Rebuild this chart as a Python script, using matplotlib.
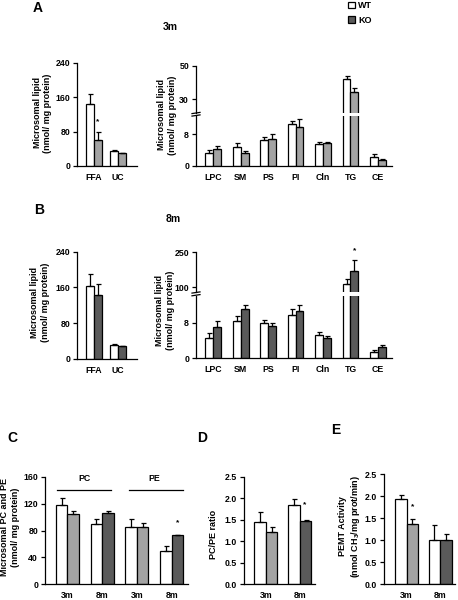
import matplotlib
matplotlib.use('Agg')
import matplotlib.pyplot as plt
from matplotlib.patches import Patch
from matplotlib.lines import Line2D
import numpy as np

plt.rcParams['font.family'] = ['Liberation Sans', 'DejaVu Sans']
plt.rcParams['font.weight'] = 'bold'
plt.rcParams['mathtext.default'] = 'regular'

# ---------------- data ----------------
cat_left = ['FFA', 'UC']
cat_right = ['LPC', 'SM', 'PS', 'PI', 'Cln', 'TG', 'CE']

wt_3m_left = [144, 35]
wt_3m_left_err = [24, 2]
ko_3m_left = [60, 30]
ko_3m_left_err = [20, 1]

wt_3m_right = [3.4, 4.8, 6.5, 10.7, 5.5, 42.1, 2.35]
wt_3m_right_err = [0.6, 0.9, 0.8, 0.7, 0.6, 2.0, 0.6]
ko_3m_right = [4.3, 3.4, 6.8, 9.9, 5.9, 34.2, 1.45]
ko_3m_right_err = [0.8, 0.3, 1.2, 1.9, 0.2, 2.3, 0.25]

wt_8m_left = [164, 31]
wt_8m_left_err = [26, 3.5]
ko_8m_left = [143, 28]
ko_8m_left_err = [24, 2]

wt_8m_right = [4.55, 8.45, 8.0, 9.8, 5.3, 113, 1.5]
wt_8m_right_err = [1.2, 1.1, 0.7, 1.3, 0.7, 21, 0.3]
ko_8m_right = [7.1, 11.1, 7.3, 10.6, 4.5, 171, 2.5]
ko_8m_right_err = [1.4, 1.0, 0.75, 1.3, 0.45, 45, 0.55]

cat_c = ['3m', '8m', '3m', '8m']
wt_pcpe = [117.6, 89.3, 85.8, 49.8]
wt_pcpe_err = [10, 8, 11.7, 7.7]
ko_pcpe = [104.8, 105.9, 85.8, 72.6]
ko_pcpe_err = [4.5, 3, 5.4, 0.0]

cat_de = ['3m', '8m']
wt_ratio = [1.45, 1.85]
wt_ratio_err = [0.22, 0.14]
ko_ratio = [1.22, 1.46]
ko_ratio_err = [0.10, 0.03]

wt_pemt = [1.93, 0.99]
wt_pemt_err = [0.10, 0.34]
ko_pemt = [1.37, 0.99]
ko_pemt_err = [0.11, 0.14]

# ---------------- style ----------------
WHITE = 'white'
LIGHT = '#a3a3a3'
DARK = '#5a5a5a'
TICK_FS = 6.3
LAB_FS = 6.5

W, H = 458, 600
fig = plt.figure(figsize=(W / 100, H / 100), dpi=100)


def ax_at(x0, x1, ytop, ybot):
    return fig.add_axes([x0 / W, 1 - ybot / H, (x1 - x0) / W, (ybot - ytop) / H])


def style(ax, bottom=True):
    for s in ['top', 'right']:
        ax.spines[s].set_visible(False)
    ax.spines['left'].set_linewidth(0.9)
    ax.spines['bottom'].set_linewidth(0.9)
    if not bottom:
        ax.spines['bottom'].set_visible(False)
    ax.tick_params(axis='y', direction='out', length=3, width=0.9, pad=2,
                   labelsize=TICK_FS)
    ax.tick_params(axis='x', length=0, pad=5, labelsize=TICK_FS)
    ax.patch.set_alpha(0)


def bars(ax, wt, wterr, ko, koerr, kocol, width):
    x = np.arange(len(wt))
    ax.bar(x - width / 2, wt, width, color=WHITE, edgecolor='black', linewidth=0.9, zorder=2)
    ax.bar(x + width / 2, ko, width, color=kocol, edgecolor='black', linewidth=0.9, zorder=2)
    ax.errorbar(x - width / 2, wt, yerr=[np.zeros(len(wt)), wterr], fmt='none',
                ecolor='black', elinewidth=0.9, capsize=1.8, capthick=0.9, zorder=3)
    ax.errorbar(x + width / 2, ko, yerr=[np.zeros(len(ko)), koerr], fmt='none',
                ecolor='black', elinewidth=0.9, capsize=1.8, capthick=0.9, zorder=3)
    return x


def ftext(x, y, s, **kw):
    fig.text(x / W, 1 - y / H, s, ha='center', va='center', **kw)


def ylab(x, y, s, fs=LAB_FS):
    fig.text(x / W, 1 - y / H, s, rotation=90, ha='center', va='center',
             multialignment='center', fontsize=fs, linespacing=1.15)


def simple_panel(x0, x1, ytop, ybot, wt, wterr, ko, koerr, kocol, width, xlim, ylim, yticks, cats, fmt=None):
    ax = ax_at(x0, x1, ytop, ybot)
    x = bars(ax, wt, wterr, ko, koerr, kocol, width)
    ax.set_xlim(*xlim)
    ax.set_ylim(*ylim)
    ax.set_yticks(yticks)
    if fmt:
        ax.set_yticklabels([fmt % v for v in yticks])
    ax.set_xticks(x)
    ax.set_xticklabels(cats)
    style(ax)
    return ax


def broken_panel(x0, x1, ytop, ybreak_top, ybreak_bot, ybot, wt, wterr, ko, koerr, kocol,
                 width, xlim, lo_lim, hi_lim, lo_ticks, hi_ticks, cats):
    lo = ax_at(x0, x1, ybreak_bot, ybot)
    hi = ax_at(x0, x1, ytop, ybreak_top)
    for ax in (lo, hi):
        x = bars(ax, wt, wterr, ko, koerr, kocol, width)
        ax.set_xlim(*xlim)
    lo.set_ylim(*lo_lim)
    hi.set_ylim(*hi_lim)
    lo.set_yticks(lo_ticks)
    hi.set_yticks(hi_ticks)
    lo.set_xticks(x)
    lo.set_xticklabels(cats)
    hi.set_xticks([])
    style(lo)
    style(hi, bottom=False)
    # break marks
    for yy in (ybreak_top + 0.5, ybreak_bot - 0.5):
        fig.add_artist(Line2D([(x0 - 4) / W, (x0 + 4) / W],
                              [1 - (yy + 0.6) / H, 1 - (yy - 0.6) / H],
                              color='black', linewidth=0.9))
    return lo, hi


# ---------------- Panel A ----------------
a1 = simple_panel(77, 137, 63, 166, wt_3m_left, wt_3m_left_err, ko_3m_left, ko_3m_left_err,
                  [LIGHT, LIGHT], 0.33, (-0.7, 1.8), (0, 240), [0, 80, 160, 240], cat_left)
a1.text(0 + 0.165, ko_3m_left[0] + ko_3m_left_err[0] + 22, '*', ha='center', va='center', fontsize=6)
ylab(42.5, 113, 'Microsomal lipid\n(nmol/ mg protein)')

broken_panel(196, 392, 65.7, 112.5, 116, 166, wt_3m_right, wt_3m_right_err, ko_3m_right,
             ko_3m_right_err, LIGHT, 0.29, (-0.62, 6.51), (0, 12.6), (22.1, 50), [0, 8], [30, 50],
             cat_right)
ylab(167, 115, 'Microsomal lipid\n(nmol/ mg protein)')

ftext(38, 8, 'A', fontsize=10)
ftext(170.5, 27, '3m', fontsize=7.5)

# ---------------- Panel B ----------------
b1 = simple_panel(77, 137, 251.7, 359, wt_8m_left, wt_8m_left_err, ko_8m_left, ko_8m_left_err,
                  [DARK, DARK], 0.33, (-0.7, 1.8), (0, 240), [0, 80, 160, 240], cat_left)
ylab(40, 302, 'Microsomal lipid\n(nmol/ mg protein)')

blo, bhi = broken_panel(196, 392, 252.3, 292, 295.7, 358.3, wt_8m_right, wt_8m_right_err, ko_8m_right,
                        ko_8m_right_err, DARK, 0.29, (-0.62, 6.51), (0, 14.1), (79.8, 250), [0, 8],
                        [100, 250], cat_right)
bhi.text(5 + 0.145, ko_8m_right[5] + ko_8m_right_err[5] + 40, '*', ha='center', va='center', fontsize=6)
ylab(165, 310, 'Microsomal lipid\n(nmol/ mg protein)')

ftext(39, 210.5, 'B', fontsize=10)
ftext(173.5, 219, '8m', fontsize=7.5)

# ---------------- Panel C ----------------
c = simple_panel(45, 188, 476.7, 584.3, wt_pcpe, wt_pcpe_err, ko_pcpe, ko_pcpe_err,
                 [LIGHT, DARK, LIGHT, DARK], 0.33, (-0.64, 3.47), (0, 160),
                 [0, 40, 80, 120, 160], cat_c)
c.plot([-0.3, 1.25], [140, 140], color='black', linewidth=0.9, clip_on=False)
c.plot([1.77, 3.33], [140, 140], color='black', linewidth=0.9, clip_on=False)
c.text(0.5, 157, 'PC', ha='center', va='center', fontsize=TICK_FS)
c.text(2.5, 157, 'PE', ha='center', va='center', fontsize=TICK_FS)
c.text(3 + 0.165, ko_pcpe[3] + 19, '*', ha='center', va='center', fontsize=6)
ylab(10, 527, 'Microsomal PC and PE\n(nmol/ mg protein)')
ftext(12.5, 437.5, 'C', fontsize=10)

# ---------------- Panel D ----------------
d = simple_panel(244, 315, 476.7, 584.3, wt_ratio, wt_ratio_err, ko_ratio, ko_ratio_err,
                 [LIGHT, DARK], 0.34, (-0.65, 1.45), (0, 2.5),
                 [0, 0.5, 1.0, 1.5, 2.0, 2.5], cat_de, fmt='%.1f')
d.text(1 + 0.14, ko_ratio[1] + ko_ratio_err[1] + 0.37, '*', ha='center', va='center', fontsize=6)
ylab(213, 534, 'PC/PE ratio')
ftext(202.5, 437.5, 'D', fontsize=10)

# ---------------- Panel E ----------------
e = simple_panel(384, 455, 474, 584, wt_pemt, wt_pemt_err, ko_pemt, ko_pemt_err,
                 [LIGHT, DARK], 0.34, (-0.67, 1.44), (0, 2.5),
                 [0, 0.5, 1.0, 1.5, 2.0, 2.5], cat_de, fmt='%.1f')
e.text(0 + 0.17, ko_pemt[0] + ko_pemt_err[0] + 0.27, '*', ha='center', va='center', fontsize=6)
ylab(350, 526, 'PEMT Activity\n(nmol CH$_3$/mg prot/min)')
ftext(336, 430, 'E', fontsize=10)

# ---------------- Legend ----------------
handles = [Patch(facecolor=WHITE, edgecolor='black', linewidth=0.9),
           Patch(facecolor=DARK, edgecolor='black', linewidth=0.9)]
fig.legend(handles, ['WT', 'KO'], loc='upper left', bbox_to_anchor=(342 / W, 1 + 5 / H),
           frameon=False, fontsize=6.5, handlelength=0.7, handleheight=0.7,
           handletextpad=0.4, labelspacing=0.6, borderpad=0.2)

fig.savefig('out.png', dpi=100)
